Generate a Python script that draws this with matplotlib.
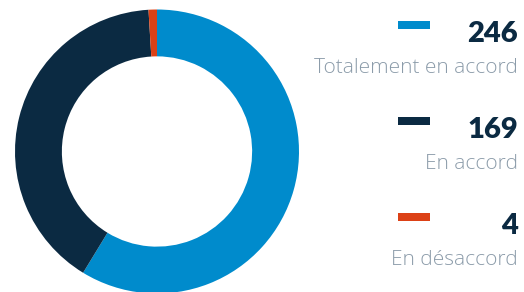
import matplotlib.pyplot as plt
from matplotlib.patches import Rectangle

labels = ['Totalement en accord', 'En accord', 'En désaccord']
values = [246, 169, 4]
colors = ['#008bcc', '#0b2a42', '#dc4116']

W, H = 524, 292
fig = plt.figure(figsize=(W / 100, H / 100), dpi=100)

# donut: center (157, 151.5) px from top-left, outer radius 142 px
cx, cy, r = 157, 151.5, 142
ax = fig.add_axes([(cx - r) / W, (H - cy - r) / H, 2 * r / W, 2 * r / H])
ax.pie(values, colors=colors, startangle=90, counterclock=False, radius=1,
       wedgeprops=dict(width=0.33, edgecolor='none'))
ax.set_xlim(-1, 1)
ax.set_ylim(-1, 1)
ax.set_aspect('equal')
ax.axis('off')

# legend on the right
num_color = '#0b2a42'
lab_color = '#8c9caa'
x_right = 518 / W
for i, (lab, val, col) in enumerate(zip(labels, values, colors)):
    top = 21 + i * 96
    fig.add_artist(Rectangle((398 / W, 1 - (top + 8) / H), 32 / W, 8 / H,
                             transform=fig.transFigure, color=col, lw=0))
    fig.text(x_right, 1 - (top + 21) / H, str(val), ha='right', va='baseline',
             fontsize=21, fontweight='heavy', color=num_color, family='Lato')
    fig.text(x_right, 1 - (top + 52) / H, lab, ha='right', va='baseline',
             fontsize=15, fontweight='light', color=lab_color, family='Open Sans')

fig.savefig('out.png', dpi=100)
